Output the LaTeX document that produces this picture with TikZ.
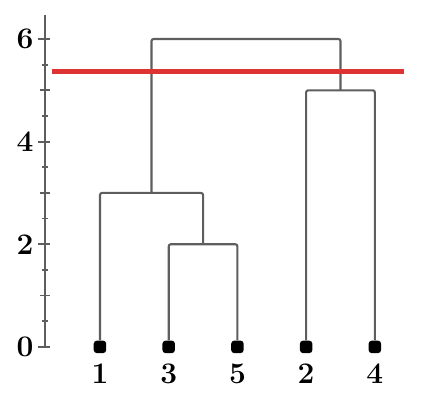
\documentclass[tikz,border=0pt]{standalone}
\usepackage{tikz}
\usetikzlibrary{positioning}
\definecolor{cutRed}{HTML}{DD3333}
\definecolor{linkGray}{HTML}{5E5E5E}

\begin{document}
\begin{tikzpicture}[
  x=1.374cm, y=1.026cm,
  leaf/.style={draw=none, fill=black, rectangle, rounded corners=1.8pt,
    minimum size=0.25cm, inner sep=0pt},
  leaflabel/.style={font=\fontsize{17}{20}\selectfont\bfseries, inner sep=0pt},
  link/.style={draw=linkGray, line width=1.2pt, rounded corners=1.2pt},
]
  \useasboundingbox (-0.655,-1.11) rectangle (5.69,6.76);

  % axis
  \coordinate (axbot) at (0,0);
  \coordinate (axtop) at (0,6.47);
  \draw[linkGray, line width=1pt] (axbot) -- (axtop);
  \foreach \h in {0.5,1.5,...,5.5}
    \draw[linkGray, line width=1pt] (-0.045,\h) -- (0.045,\h);
  \foreach \h in {1,3,5}
    \draw[linkGray, line width=1pt] (-0.07,\h) -- (0.07,\h);
  \foreach \h in {0,2,4,6} {
    \draw[linkGray, line width=1pt] (-0.1,\h) -- (0.07,\h);
    \node[leaflabel] at (-0.29,\h) {\h};
  }

  % leaves
  \foreach \name/\xx in {1/0.8, 3/1.8, 5/2.8, 2/3.8, 4/4.8} {
    \node[leaf] (l\name) at (\xx,0) {};
    \node[leaflabel, below=0.2cm of l\name] {\name};
  }

  % merges
  \coordinate (m35) at (2.3,2);
  \coordinate (m135) at (1.55,3);
  \coordinate (m24) at (4.3,5);
  \coordinate (mtop) at (2.925,6);

  \draw[link] (l3) |- (m35) -| (l5);
  \draw[link] (l1) |- (m135) -| (m35);
  \draw[link] (l2) |- (m24) -| (l4);
  \draw[link] (m135) |- (mtop) -| (m24);

  % cut
  \coordinate (cutL) at (0.1,5.36);
  \coordinate (cutR) at (5.23,5.36);
  \draw[cutRed, line width=2.8pt] (cutL) -- (cutR);
\end{tikzpicture}
\end{document}
